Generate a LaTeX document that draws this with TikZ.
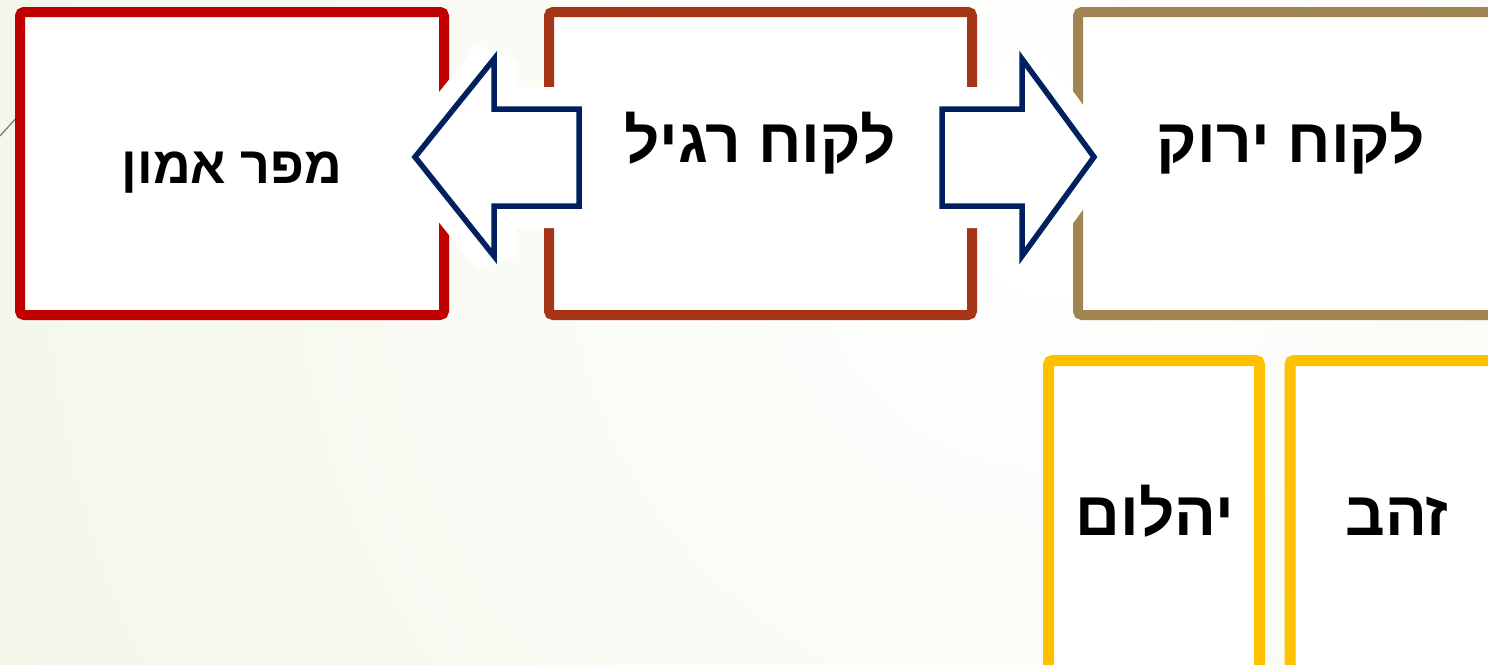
\documentclass[tikz,border=0pt]{standalone}
\usepackage{fontspec}
\newfontfamily\hebfont[Script=Hebrew]{Liberation Sans}
\TeXXeTstate=1
\definecolor{cRed}{RGB}{192,0,0}
\definecolor{cBrown}{RGB}{166,52,22}
\definecolor{cTan}{RGB}{160,132,82}
\definecolor{cGold}{RGB}{255,192,0}
\definecolor{cNavy}{RGB}{0,32,96}
\definecolor{cBg}{RGB}{232,239,214}
\definecolor{cDeco}{RGB}{120,120,90}
\begin{document}
\begin{tikzpicture}[x=1pt,y=-1pt,
  box/.style={draw=#1, line width=10pt, fill=white, rounded corners=4pt, inner sep=0pt},
  lbl/.style={font=\hebfont\bfseries\fontsize{62}{70}\selectfont, anchor=base, inner sep=0pt},
  slbl/.style={font=\hebfont\bfseries\fontsize{52}{60}\selectfont, anchor=base, inner sep=0pt},
  halo/.style={draw=white, fill=white, line width=44pt, line join=miter, miter limit=1.6},
  blockarrow/.style={draw=cNavy, fill=white, line width=5.5pt, line join=miter}]
\useasboundingbox (0,0) rectangle (1488,664);
\begin{scope}
\clip (0,0) rectangle (1488,664);
\fill[cBg] (0,0) rectangle (1488,664);
\shade[inner color=white, outer color=cBg] (1050,230) circle[radius=2200pt];
\draw[cDeco, line width=1.2pt] (0,136) -- (18,116);
% boxes
\node[box=cRed,   minimum width=424pt, minimum height=303pt] (b1) at (232,163.5) {};
\node[box=cBrown, minimum width=423pt, minimum height=303pt] (b2) at (760.5,163.5) {};
\node[box=cTan,   minimum width=423pt, minimum height=303pt] (b3) at (1289.5,163.5) {};
\node[box=cGold, line width=11pt, minimum width=211pt, minimum height=340pt] (b4) at (1154,530.5) {};
\node[box=cGold, line width=11pt, minimum width=212pt, minimum height=340pt] (b5) at (1396,530.5) {};
% block arrows
\draw[blockarrow, preaction={halo}] (579,109) -- (494,109) -- (494,59) -- (415,157) -- (494,256) -- (494,206) -- (579,206) -- cycle;
\draw[blockarrow, preaction={halo}] (942,109) -- (1022,109) -- (1022,59) -- (1094,157) -- (1022,256) -- (1022,206) -- (942,206) -- cycle;
% labels
\node[slbl] (t1) at (232,183) {\beginR מפר אמון\endR};
\node[lbl] (t2) at (760,162) {\beginR לקוח רגיל\endR};
\node[lbl] (t3) at (1291,162) {\beginR לקוח ירוק\endR};
\node[lbl] (t4) at (1155,535) {\beginR יהלום\endR};
\node[lbl] (t5) at (1397,535) {\beginR זהב\endR};
\end{scope}
\end{tikzpicture}
\end{document}
